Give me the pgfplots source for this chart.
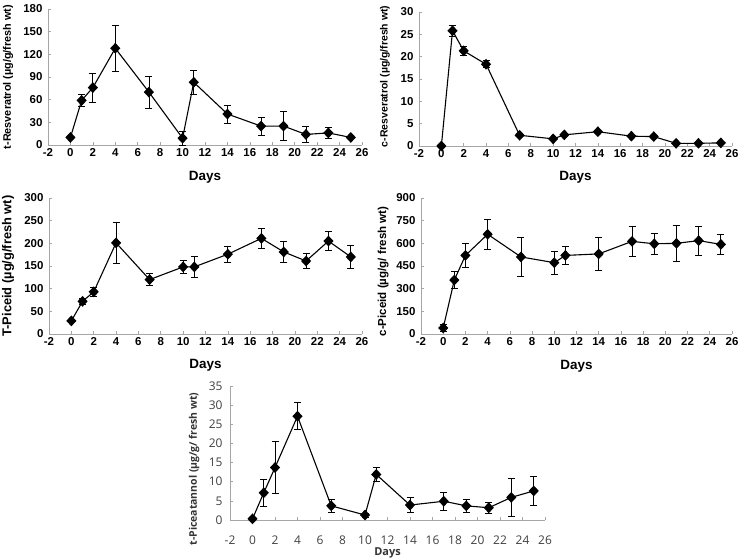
\documentclass[border=0pt]{standalone}
\usepackage{fontspec}
\setmainfont{Liberation Sans}
\newfontfamily\osans{Open Sans}
\usepackage{pgfplots}
\pgfplotsset{compat=1.18}
\pgfplotsset{
  base/.style={
    scale only axis,
    anchor=south west,
    axis x line*=bottom,
    axis y line*=left,
    axis line style={draw=gray!70, line width=0.8bp},
    tick style={draw=gray!70, line width=0.6bp},
    tick align=inside,
    major tick length=3bp,
    xmin=-2, xmax=26,
    xtick={-2,0,...,26},
    /pgf/number format/assume math mode=true,
    clip=false,
  },
  topstyle/.style={
    base,
    ticklabel style={font=\bfseries\fontsize{11.5}{12}\selectfont},
    yticklabel style={xshift=-2bp},
    xlabel style={font=\bfseries\fontsize{13.5}{15}\selectfont},
    xlabel={Days},
  },
  ser/.style={
    black, line width=1.1bp, mark=diamond*, mark size=4.6bp,
    mark options={fill=black, scale=1, xscale=1.25},
    error bars/.cd, y dir=both, y explicit,
    error bar style={line width=0.8bp, black},
    error mark options={line width=0.8bp, black, mark size=3.5bp, rotate=90},
  },
}
\begin{document}
\begin{tikzpicture}
\path[use as bounding box] (0bp,0bp) rectangle (742bp,560bp);
% Panel 1
\begin{axis}[topstyle, at={(48bp,415bp)}, width=314bp, height=136bp,
  ymin=0, ymax=180, ytick={0,30,...,180},
  xlabel style={at={(axis description cs:0.5,-0.235)}, anchor=center},
  ylabel={t-Resveratrol (µg/g/fresh wt)},
  ylabel style={font=\bfseries\fontsize{10.9}{12}\selectfont, at={(axis description cs:-0.127,0.5)}, anchor=center}]
\addplot+[ser] table[x=x, y=y, y error=e] {
x y e
0 10 0
1 59 8
2 76 19
4 128 30
7 70 21
10 9 9
11 83 16
14 41 12
17 25 12
19 25 19
21 14 10
23 16 7
25 10 0
};
\end{axis}
% Panel 2
\begin{axis}[topstyle, at={(419bp,414bp)}, width=313bp, height=134bp,
  ymin=0, ymax=30, ytick={0,5,...,30},
  xlabel style={at={(axis description cs:0.5,-0.23)}, anchor=center},
  ylabel={c-Resveratrol (µg/g/fresh wt)},
  ylabel style={font=\bfseries\fontsize{10.5}{12}\selectfont, at={(axis description cs:-0.109,0.52)}, anchor=center}]
\addplot+[ser] table[x=x, y=y, y error=e] {
x y e
0 0 0
1 25.8 1.2
2 21.3 1.0
4 18.3 0.8
7 2.4 0.2
10 1.6 0.2
11 2.5 0.2
14 3.2 0.2
17 2.2 0.2
19 2.1 0.2
21 0.6 0.1
23 0.6 0.1
25 0.7 0.1
};
\end{axis}
% Panel 3
\begin{axis}[topstyle, at={(49bp,226bp)}, width=313bp, height=136bp,
  ymin=0, ymax=300, ytick={0,50,...,300},
  xlabel style={at={(axis description cs:0.5,-0.228)}, anchor=center},
  ylabel={T-Piceid (µg/g/fresh wt)},
  ylabel style={font=\bfseries\fontsize{12.9}{14}\selectfont, at={(axis description cs:-0.131,0.5)}, anchor=center}]
\addplot+[ser] table[x=x, y=y, y error=e] {
x y e
0 29 0
1 72 7
2 93 10
4 201 46
7 120 13
10 148 15
11 148 23
14 176 18
17 211 22
19 181 24
21 161 17
23 205 21
25 170 25
};
\end{axis}
% Panel 4
\begin{axis}[topstyle, at={(421bp,226bp)}, width=311bp, height=136bp,
  ymin=0, ymax=900, ytick={0,150,...,900},
  xlabel style={at={(axis description cs:0.5,-0.24)}, anchor=center},
  ylabel={c-Piceid (µg/g/ fresh wt)},
  ylabel style={font=\bfseries\fontsize{11.6}{13}\selectfont, at={(axis description cs:-0.122,0.46)}, anchor=center}]
\addplot+[ser] table[x=x, y=y, y error=e] {
x y e
0 40 25
1 357 57
2 520 80
4 660 100
7 510 130
10 472 75
11 520 57
14 530 106
17 613 97
19 597 67
21 600 120
23 618 97
25 593 67
};
\end{axis}
% Panel 5
\begin{axis}[base, at={(230bp,40bp)}, width=315bp, height=134bp,
  ymin=0, ymax=35, ytick={0,5,...,35},
  ticklabel style={font=\osans\fontsize{12}{13}\selectfont, text=black!75},
  xticklabel style={yshift=-12bp},
  yticklabel style={xshift=-4bp},
  xlabel={Days},
  xlabel style={font=\osans\bfseries\fontsize{11}{12}\selectfont, text=black!80, at={(axis description cs:0.5,-0.246)}, anchor=center},
  ylabel={t-Piceatannol (µg/g/ fresh wt)},
  ylabel style={font=\osans\bfseries\fontsize{10.5}{12}\selectfont, text=black!80, at={(axis description cs:-0.114,0.38)}, anchor=center}]
\addplot+[ser] table[x=x, y=y, y error=e] {
x y e
0 0.3 0
1 7.1 3.5
2 13.7 6.8
4 27.1 3.5
7 3.7 1.8
10 1.3 0.5
11 11.9 1.9
14 3.9 1.9
17 4.9 2.4
19 3.7 1.8
21 3.2 1.5
23 5.9 4.9
25 7.6 3.8
};
\end{axis}
\end{tikzpicture}
\end{document}
